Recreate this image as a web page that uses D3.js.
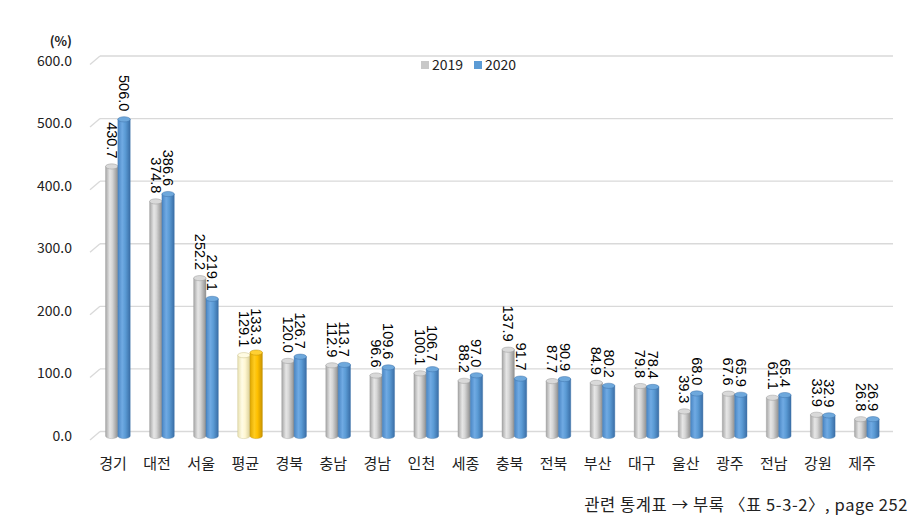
<!DOCTYPE html>
<html><head><meta charset="utf-8">
<script src="https://cdn.jsdelivr.net/npm/d3@7"></script>
<style>body{margin:0;background:#fff}svg{display:block}</style>
</head><body>
<svg id="c" width="922" height="523"></svg>
<script>
const categories = ["경기","대전","서울","평균","경북","충남","경남","인천","세종","충북","전북","부산","대구","울산","광주","전남","강원","제주"];
const values2019 = [430.7,374.8,252.2,129.1,120.0,112.9,96.6,100.1,88.2,137.9,87.7,84.9,79.8,39.3,67.6,61.1,33.9,26.8];
const values2020 = [506.0,386.6,219.1,133.3,126.7,113.7,109.6,106.7,97.0,91.7,90.9,80.2,78.4,68.0,65.9,65.4,32.9,26.9];
const seriesNames = ["2019","2020"];
const yTicks = [0,100,200,300,400,500,600];
const avgLabel = "평균";

const svg = d3.select("#c");
const defs = svg.append("defs");
const kr = "'Noto Sans CJK KR','Noto Sans',sans-serif";
const lat = "'Liberation Sans',Arial,sans-serif";

const y = d3.scaleLinear().domain([0,600]).range([436,60.5]);
const x0 = d3.scaleBand().domain(categories).range([91,884]).padding(0);
const x1 = d3.scaleBand().domain(seriesNames).range([x0.bandwidth()*0.33, x0.bandwidth()*0.89]).padding(0);

function grad(id, stops){
  const g = defs.append("linearGradient").attr("id",id).attr("x1","0").attr("x2","1").attr("y1","0").attr("y2","0");
  stops.forEach(s=>g.append("stop").attr("offset",s[0]).attr("stop-color",s[1]));
}
grad("gGray",[[0,"#a6a6a6"],[0.35,"#e6e6e6"],[0.55,"#d6d6d6"],[1,"#8f8f8f"]]);
grad("gBlue",[[0,"#4a86c4"],[0.35,"#70aae3"],[0.6,"#5b9bd5"],[1,"#3a6ea6"]]);
grad("gCream",[[0,"#e8e0b0"],[0.35,"#fffce6"],[0.6,"#fff7d2"],[1,"#d9cf98"]]);
grad("gGold",[[0,"#e0a800"],[0.35,"#ffcc20"],[0.6,"#ffc000"],[1,"#c89200"]]);

const style = {
  "2019": {fill:"url(#gGray)", top:"#d9d9d9", stroke:"#9a9a9a"},
  "2020": {fill:"url(#gBlue)", top:"#6ea8dc", stroke:"#3f73aa"},
  "avg2019": {fill:"url(#gCream)", top:"#fffbe3", stroke:"#c9bf88"},
  "avg2020": {fill:"url(#gGold)", top:"#ffd033", stroke:"#bf8f00"}
};

// gridlines with 3D floor offset
const grid = svg.append("g");
yTicks.forEach(t=>{
  const yy = y(t);
  grid.append("line").attr("x1",100).attr("x2",893).attr("y1",yy-4.5).attr("y2",yy-4.5)
    .attr("stroke","#d9d9d9").attr("stroke-width",1.3);
  grid.append("line").attr("x1",90).attr("x2",100).attr("y1",yy+4).attr("y2",yy-4.5)
    .attr("stroke","#d9d9d9").attr("stroke-width",1.3);
  grid.append("text").attr("x",72).attr("y",yy+5).attr("text-anchor","end")
    .attr("font-family",kr).attr("font-size",14).attr("fill","#222").text(t.toFixed(1));
});

svg.append("text").attr("x",72).attr("y",46).attr("text-anchor","end")
  .attr("font-family",kr).attr("font-size",13).attr("font-weight","bold").attr("fill","#222").text("(%)");

// bars
const data = [];
categories.forEach((c,i)=>{
  data.push({cat:c, s:"2019", v:values2019[i]});
  data.push({cat:c, s:"2020", v:values2020[i]});
});
const ry = 2.6;
const bars = svg.append("g");
data.forEach(d=>{
  const key = d.cat===avgLabel ? "avg"+d.s : d.s;
  const st = style[key];
  const bx = x0(d.cat)+x1(d.s);
  const bw = x1.bandwidth();
  const yt = y(d.v), yb = y(0);
  const g = bars.append("g");
  g.append("path")
    .attr("d",`M${bx},${yt} L${bx},${yb} A${bw/2},${ry} 0 0 0 ${bx+bw},${yb} L${bx+bw},${yt} Z`)
    .attr("fill",st.fill).attr("stroke",st.stroke).attr("stroke-width",0.4);
  g.append("ellipse").attr("cx",bx+bw/2).attr("cy",yt).attr("rx",bw/2).attr("ry",ry)
    .attr("fill",st.top).attr("stroke",st.stroke).attr("stroke-width",0.5);
  g.append("text")
    .attr("transform",`translate(${bx+bw/2-5},${yt-8}) rotate(90)`)
    .attr("text-anchor","end").attr("font-family",lat).attr("font-size",14.5).attr("fill","#000")
    .text(d.v.toFixed(1));
});

// category labels
svg.append("g").selectAll("text").data(categories).join("text")
  .attr("x",d=>x0(d)+x0.bandwidth()/2).attr("y",469).attr("text-anchor","middle")
  .attr("font-family",kr).attr("font-size",15).attr("fill","#222").text(d=>d);

// legend
const lg = svg.append("g");
[["2019","#c8c8c8",421],["2020","#5b9bd5",474]].forEach(([n,c,lx])=>{
  lg.append("rect").attr("x",lx).attr("y",61).attr("width",8).attr("height",8).attr("fill",c);
  lg.append("text").attr("x",lx+11).attr("y",70).attr("font-family",kr).attr("font-size",14).attr("fill","#222").text(n);
});

// source
svg.append("text").attr("x",908).attr("y",511).attr("text-anchor","end")
  .attr("font-family",kr).attr("font-size",16.5).attr("letter-spacing",0.6).attr("fill","#222")
  .text("관련 통계표 → 부록 〈표 5-3-2〉, page 252");
</script>
</body></html>
